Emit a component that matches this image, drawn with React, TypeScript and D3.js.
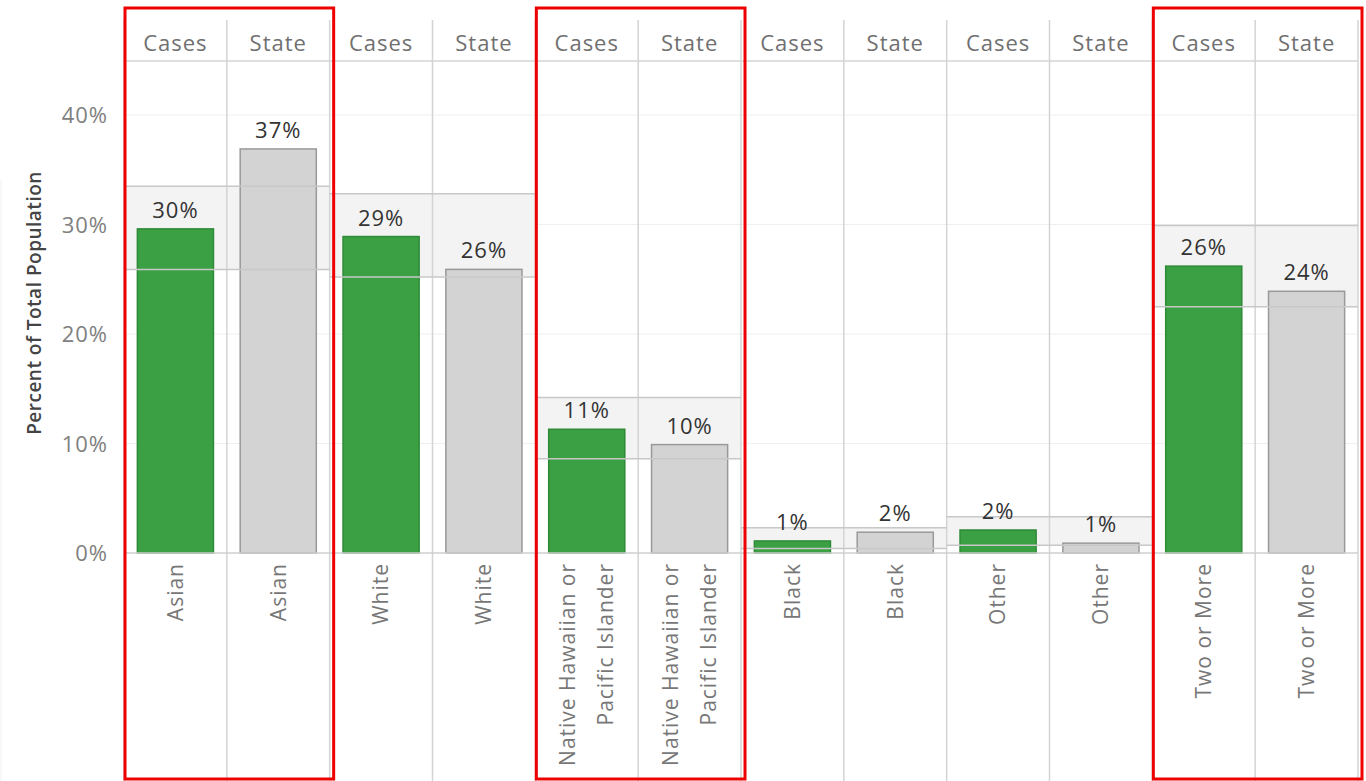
import React, { useEffect, useRef } from 'react';
import * as d3 from 'd3';

// race / ethnicity groups, one pane each
const categories = ['Asian', 'White', 'Native Hawaiian or Pacific Islander', 'Black', 'Other', 'Two or More'];
const axisLabels = [['Asian'], ['White'], ['Native Hawaiian or', 'Pacific Islander'], ['Black'], ['Other'], ['Two or More']];
const subgroups = ['Cases', 'State'];

// percent of total population
const casesPct = [29.6, 28.9, 11.3, 1.1, 2.1, 26.2];
const statePct = [36.9, 25.9, 9.9, 1.9, 0.9, 23.9];

// reference band per pane
const bandHigh = [33.5, 32.8, 14.2, 2.3, 3.3, 29.9];
const bandLow = [25.9, 25.2, 8.6, 0.4, 0.7, 22.5];

const yTicks = [0, 10, 20, 30, 40];
const highlighted = ['Asian', 'Native Hawaiian or Pacific Islander', 'Two or More'];

const FONT = '"Open Sans", sans-serif';

const App = () => {
  const ref = useRef<SVGSVGElement>(null);

  useEffect(() => {
    const svg = d3.select(ref.current);
    svg.selectAll('*').remove();

    const width = 1366;
    const height = 781;
    const left = 124;
    const right = 1358;
    const headerTop = 20;
    const headerBottom = 61;

    const x = d3.scaleBand<string>().domain(categories).range([left, right]).padding(0);
    const xs = d3.scaleBand<string>().domain(subgroups).range([0, x.bandwidth()]).paddingInner(0.26).paddingOuter(0.13);
    const y = d3.scaleLinear().domain([0, 40]).range([553, 115]);

    const colW = x.bandwidth() / 2;
    const rows = categories.flatMap((c, i) => [
      { cat: c, i, sub: 'Cases', v: casesPct[i] },
      { cat: c, i, sub: 'State', v: statePct[i] }
    ]);

    // faint left edge
    svg.append('line').attr('x1', 1).attr('x2', 1).attr('y1', 180).attr('y2', height).attr('stroke', '#f0f0f0');

    // gridlines
    svg
      .append('g')
      .selectAll('line')
      .data(yTicks.filter((t) => t > 0))
      .enter()
      .append('line')
      .attr('x1', left)
      .attr('x2', right)
      .attr('y1', (d) => y(d))
      .attr('y2', (d) => y(d))
      .attr('stroke', '#efefef');

    // reference bands (fill)
    svg
      .append('g')
      .selectAll('rect')
      .data(categories)
      .enter()
      .append('rect')
      .attr('x', (d) => x(d) as number)
      .attr('y', (d, i) => y(bandHigh[i]))
      .attr('width', x.bandwidth())
      .attr('height', (d, i) => y(bandLow[i]) - y(bandHigh[i]))
      .attr('fill', '#f3f3f3');

    // column dividers
    const dividers = d3.range(0, 13).map((k) => left + k * colW);
    svg
      .append('g')
      .selectAll('line')
      .data(dividers)
      .enter()
      .append('line')
      .attr('x1', (d) => d)
      .attr('x2', (d) => d)
      .attr('y1', headerTop)
      .attr('y2', height)
      .attr('stroke', '#d4d4d4')
      .attr('stroke-width', 1.5);

    svg.append('line').attr('x1', left).attr('x2', right).attr('y1', headerBottom).attr('y2', headerBottom).attr('stroke', '#d4d4d4').attr('stroke-width', 1.5);

    // header
    svg
      .append('g')
      .selectAll('text')
      .data(rows)
      .enter()
      .append('text')
      .attr('x', (d) => (x(d.cat) as number) + (xs(d.sub) as number) + xs.bandwidth() / 2)
      .attr('y', 51)
      .attr('text-anchor', 'middle')
      .attr('font-family', FONT)
      .attr('font-size', 22)
      .attr('letter-spacing', 1)
      .attr('fill', '#707070')
      .text((d) => d.sub);

    // bars
    svg
      .append('g')
      .selectAll('rect')
      .data(rows)
      .enter()
      .append('rect')
      .attr('x', (d) => (x(d.cat) as number) + (xs(d.sub) as number))
      .attr('y', (d) => y(d.v))
      .attr('width', xs.bandwidth())
      .attr('height', (d) => y(0) - y(d.v))
      .attr('fill', (d) => (d.sub === 'Cases' ? '#3aa043' : '#d3d3d3'))
      .attr('stroke', (d) => (d.sub === 'Cases' ? '#2f8a37' : '#999'))
      .attr('stroke-width', 1.5);

    // reference band edges
    const edges = categories.flatMap((c, i) => [
      { cat: c, v: bandHigh[i] },
      { cat: c, v: bandLow[i] }
    ]);
    svg
      .append('g')
      .selectAll('line')
      .data(edges)
      .enter()
      .append('line')
      .attr('x1', (d) => x(d.cat) as number)
      .attr('x2', (d) => (x(d.cat) as number) + x.bandwidth())
      .attr('y1', (d) => y(d.v))
      .attr('y2', (d) => y(d.v))
      .attr('stroke', '#c8c8c8')
      .attr('stroke-width', 1.5);

    // baseline
    svg.append('line').attr('x1', left).attr('x2', right).attr('y1', y(0)).attr('y2', y(0)).attr('stroke', '#cfcfcf').attr('stroke-width', 1.5);

    // value labels
    svg
      .append('g')
      .selectAll('text')
      .data(rows)
      .enter()
      .append('text')
      .attr('x', (d) => (x(d.cat) as number) + (xs(d.sub) as number) + xs.bandwidth() / 2)
      .attr('y', (d) => y(d.v) - 11)
      .attr('text-anchor', 'middle')
      .attr('font-family', FONT)
      .attr('font-size', 22)
      .attr('letter-spacing', 1)
      .attr('fill', '#333')
      .text((d) => Math.round(d.v) + '%');

    // y axis
    const yAxis = svg
      .append('g')
      .attr('transform', `translate(108,0)`)
      .call(d3.axisLeft(y).tickValues(yTicks).tickFormat((d) => d + '%').tickSize(0).tickPadding(0));
    yAxis.select('.domain').remove();
    yAxis
      .selectAll('text')
      .attr('font-family', FONT)
      .attr('font-size', 22)
      .attr('letter-spacing', 1)
      .attr('fill', '#808080')
      .attr('dy', '0.35em');

    svg
      .append('text')
      .attr('transform', `translate(41,303) rotate(-90)`)
      .attr('text-anchor', 'middle')
      .attr('font-family', FONT)
      .attr('font-size', 19)
      .attr('font-weight', 600)
      .attr('letter-spacing', 0.5)
      .attr('fill', '#444')
      .text('Percent of Total Population');

    // x labels, rotated
    const xl = svg
      .append('g')
      .selectAll('text')
      .data(rows)
      .enter()
      .append('text')
      .attr('transform', (d) => {
        const cx = (x(d.cat) as number) + (xs(d.sub) as number) + xs.bandwidth() / 2;
        return `translate(${cx},563) rotate(-90)`;
      })
      .attr('text-anchor', 'end')
      .attr('font-family', FONT)
      .attr('font-size', 21)
      .attr('letter-spacing', 1)
      .attr('fill', '#777');
    xl.each(function (d) {
      const lines = axisLabels[d.i];
      const t = d3.select(this);
      lines.forEach((ln, k) => {
        const off = (k - (lines.length - 1) / 2) * 38;
        t.append('tspan').attr('x', 0).attr('y', off).attr('dy', '0.35em').text(ln);
      });
    });

    // red highlight boxes
    svg
      .append('g')
      .selectAll('rect')
      .data(highlighted)
      .enter()
      .append('rect')
      .attr('x', (d) => (x(d) as number) + 1)
      .attr('y', 8)
      .attr('width', x.bandwidth() + 3)
      .attr('height', 771)
      .attr('fill', 'none')
      .attr('stroke', '#ee0000')
      .attr('stroke-width', 3);

    svg.attr('width', width).attr('height', height);
  }, []);

  return <svg ref={ref} width={1366} height={781} style={{ position: 'absolute', left: 0, top: 0, background: '#fff' }} />;
};

export default App;
